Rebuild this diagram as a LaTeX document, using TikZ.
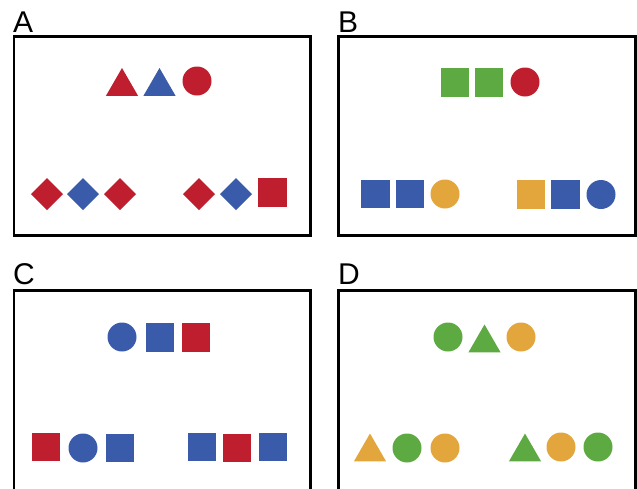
\documentclass[tikz,border=0pt]{standalone}
\usepackage{fontspec}
\setmainfont{Liberation Sans}
\usepackage{tikz}
\usetikzlibrary{shapes.geometric}
\definecolor{rot}{HTML}{BE1E2D}
\definecolor{blau}{HTML}{3A5BAA}
\definecolor{gruen}{HTML}{5EAA42}
\definecolor{ocker}{HTML}{E2A63C}

\begin{document}
\begin{tikzpicture}[x=1pt, y=-1pt,
		quadrat/.style={rectangle, fill=#1, minimum size=28.5pt, inner sep=0pt, outer sep=0pt},
		kreis/.style={circle, fill=#1, minimum size=29pt, inner sep=0pt, outer sep=0pt},
		raute/.style={diamond, fill=#1, minimum size=32pt, inner sep=0pt, outer sep=0pt},
		dreieck/.style={regular polygon, regular polygon sides=3, fill=#1, minimum size=37pt, inner sep=0pt, outer sep=0pt},
		feld/.style={line width=2.5pt},
		titel/.style={anchor=base west, inner sep=0pt, font=\fontsize{30}{36}\selectfont}]
		%Bildbereich
		\useasboundingbox (0,0) rectangle (637,488);
		\clip (0,0) rectangle (637,488);
		%Rahmen zeichnen
		\draw[feld] (14,36.5) rectangle (310.5,235.5);
		\draw[feld] (338.5,36.5) rectangle (635.5,235.5);
		\draw[feld] (14,290.5) rectangle (310.5,500);
		\draw[feld] (338.5,290.5) rectangle (635.5,500);
		% Beschriftung
		\node[titel] (labA) at (13,32) {A};
		\node[titel] (labB) at (338,32) {B};
		\node[titel] (labC) at (13,284) {C};
		\node[titel] (labD) at (338,284) {D};
		% Feld A
		\foreach \x/\y/\s/\c [count=\i] in {122/86.5/dreieck/rot, 159.5/86.5/dreieck/blau, 197/81/kreis/rot}
			\node[\s=\c] (a\i) at (\x,\y) {};
		\foreach \x/\y/\s/\c [count=\i] in {47/194/raute/rot, 83/194/raute/blau, 120/194/raute/rot, 199/194/raute/rot, 236/194/raute/blau, 272.5/192.5/quadrat/rot}
			\node[\s=\c] (au\i) at (\x,\y) {};
		% Feld B
		\foreach \x/\y/\s/\c [count=\i] in {455/82.5/quadrat/gruen, 489/82.5/quadrat/gruen, 525/82/kreis/rot}
			\node[\s=\c] (b\i) at (\x,\y) {};
		\foreach \x/\y/\s/\c [count=\i] in {375.5/194/quadrat/blau, 410/194/quadrat/blau, 445/194/kreis/ocker, 531/194.5/quadrat/ocker, 565.5/194.5/quadrat/blau, 601/194.5/kreis/blau}
			\node[\s=\c] (bu\i) at (\x,\y) {};
		% Feld C
		\foreach \x/\y/\s/\c [count=\i] in {122/337/kreis/blau, 160/337.5/quadrat/blau, 196/337.5/quadrat/rot}
			\node[\s=\c] (c\i) at (\x,\y) {};
		\foreach \x/\y/\s/\c [count=\i] in {46/447/quadrat/rot, 83/448/kreis/blau, 120/448/quadrat/blau, 202/447/quadrat/blau, 237/448/quadrat/rot, 273/447/quadrat/blau}
			\node[\s=\c] (cu\i) at (\x,\y) {};
		% Feld D
		\foreach \x/\y/\s/\c [count=\i] in {448/337/kreis/gruen, 484.5/343/dreieck/gruen, 521/337/kreis/ocker}
			\node[\s=\c] (d\i) at (\x,\y) {};
		\foreach \x/\y/\s/\c [count=\i] in {370/452/dreieck/ocker, 407/448/kreis/gruen, 445/448/kreis/ocker, 525/452/dreieck/gruen, 561/447/kreis/ocker, 598/447/kreis/gruen}
			\node[\s=\c] (du\i) at (\x,\y) {};
	\end{tikzpicture}
\end{document}
